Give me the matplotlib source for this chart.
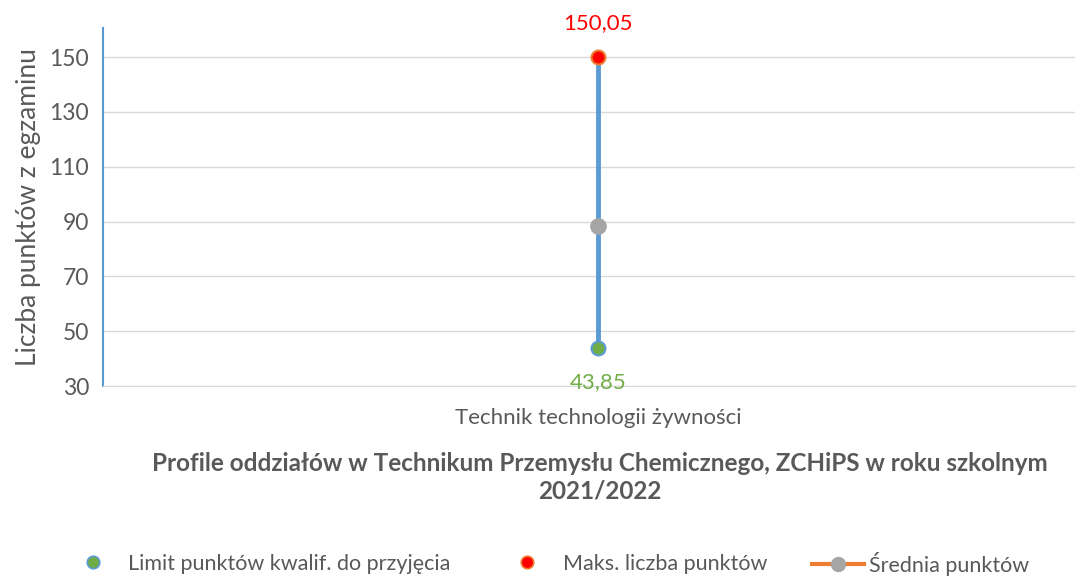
import matplotlib.pyplot as plt
from matplotlib.lines import Line2D

plt.rcParams['font.family'] = ['Lato', 'DejaVu Sans']

kategorie = ["Technik technologii żywności"]
limit = [43.85]
maks = [150.05]
srednia = [88.4]
etykiety_y = [30, 50, 70, 90, 110, 130, 150]

fig = plt.figure(figsize=(10.84, 5.77), dpi=100)
ax = fig.add_axes([0.095, 0.331, 0.897, 0.62])

x = list(range(len(kategorie)))

# pionowa linia od limitu do maksimum
ax.vlines(x, limit, maks, color="#5B9BD5", linewidth=3.5, zorder=2)
ax.plot(x, srednia, "o", color="#A5A5A5", markersize=11, zorder=3)
ax.plot(x, limit, "o", color="#70AD47", markeredgecolor="#5B9BD5",
        markeredgewidth=1.5, markersize=10, zorder=4)
ax.plot(x, maks, "o", color="#FF0000", markeredgecolor="#ED7D31",
        markeredgewidth=1.5, markersize=10, zorder=4)

for xi, v in zip(x, maks):
    ax.annotate(f"{v:.2f}".replace(".", ","), (xi, v), xytext=(0, 17),
                textcoords="offset points", ha="center", va="bottom",
                color="#FF0000", fontsize=16)
for xi, v in zip(x, limit):
    ax.annotate(f"{v:.2f}".replace(".", ","), (xi, v), xytext=(0, -17),
                textcoords="offset points", ha="center", va="top",
                color="#70AD47", fontsize=16)

ax.set_xlim(-0.5, 0.482)
ax.set_ylim(30, 160.5)
ax.set_yticks(etykiety_y)
ax.set_xticks(x)
ax.set_xticklabels(kategorie)
ax.tick_params(axis="both", length=0, colors="#595959", labelsize=16.5, pad=10)
ax.tick_params(axis="x", labelsize=16, pad=16)
ax.grid(axis="y", color="#D9D9D9", linewidth=1)
ax.set_axisbelow(True)
for s in ["top", "right"]:
    ax.spines[s].set_visible(False)
ax.spines["left"].set_color("#5B9BD5")
ax.spines["left"].set_linewidth(1.5)
ax.spines["bottom"].set_color("#D9D9D9")
ax.set_ylabel("Liczba punktów z egzaminu", fontsize=19, color="#595959", labelpad=6)

fig.text(0.553, 0.173, "Profile oddziałów w Technikum Przemysłu Chemicznego, ZCHiPS w roku szkolnym\n2021/2022",
         ha="center", va="center", fontsize=17.5, fontweight="bold", color="#595959",
         linespacing=1.25)

uchwyty = [
    Line2D([], [], linestyle="none", marker="o", color="#70AD47",
           markeredgecolor="#5B9BD5", markeredgewidth=1.2, markersize=9),
    Line2D([], [], linestyle="none", marker="o", color="#FF0000",
           markeredgecolor="#ED7D31", markeredgewidth=1.2, markersize=9),
    Line2D([], [], color="#ED7D31", linewidth=3, marker="o",
           markerfacecolor="#A5A5A5", markeredgecolor="#A5A5A5", markersize=10),
]
nazwy = ["Limit punktów kwalif. do przyjęcia", "Maks. liczba punktów", "Średnia punktów"]
poz_x = [0.070, 0.4705, 0.749]
dl_uchwytu = [1.6, 1.6, 2.4]
odstep = [0.84, 0.84, 0.23]
for h, n, px, dl, od in zip(uchwyty, nazwy, poz_x, dl_uchwytu, odstep):
    fig.legend([h], [n], loc="center left", bbox_to_anchor=(px, 0.023), frameon=False,
               fontsize=15.5, labelcolor="#595959", borderpad=0, borderaxespad=0,
               handlelength=dl, handletextpad=od)

fig.savefig("out.png", dpi=100)
